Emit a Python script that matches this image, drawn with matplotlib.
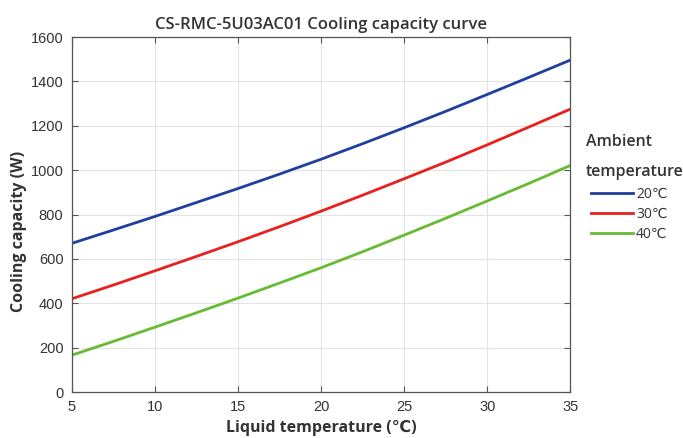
import matplotlib
matplotlib.use("Agg")
import matplotlib.pyplot as plt

liquid_temp = [5, 7.5, 10, 12.5, 15, 17.5, 20, 22.5, 25, 27.5, 30, 32.5, 35]
cap_20 = [670, 730, 791, 854, 917, 982, 1049, 1119, 1191, 1265, 1341, 1418, 1496]
cap_30 = [420, 482, 546, 611, 677, 745, 815, 887, 961, 1036, 1114, 1194, 1275]
cap_40 = [166, 228, 292, 357, 423, 491, 560, 632, 707, 783, 861, 940, 1021]
series_labels = ["20\u2103", "30\u2103", "40\u2103"]
legend_title = ["Ambient", "temperature"]
x_ticks = [5, 10, 15, 20, 25, 30, 35]
y_ticks = [0, 200, 400, 600, 800, 1000, 1200, 1400, 1600]

colors = ["#1f3f9f", "#e8201e", "#66bb33"]

W, H = 683, 438
fig = plt.figure(figsize=(W / 100, H / 100), dpi=100)
ax = fig.add_axes([0.105, 0.105, 0.73, 0.8105])

for ys, c, lab in zip([cap_20, cap_30, cap_40], colors, series_labels):
    ax.plot(liquid_temp, ys, color=c, lw=2.0, label=lab)

ax.set_xlim(5, 35)
ax.set_ylim(0, 1600)
ax.set_xticks(x_ticks)
ax.set_yticks(y_ticks)
ax.grid(True, color="#e3e3e3", lw=0.8)
ax.set_axisbelow(True)
ax.tick_params(direction="in", top=True, right=True, length=4, color="#555555",
               labelsize=10.5, labelcolor="#333333", pad=6)
for lbl in ax.get_xticklabels() + ax.get_yticklabels():
    lbl.set_family(["Liberation Sans", "DejaVu Sans"])
for s in ax.spines.values():
    s.set_color("#555555")
    s.set_linewidth(0.9)

fam = ["Open Sans", "DejaVu Sans"]
ax.set_title("CS-RMC-5U03AC01 Cooling capacity curve", family=fam, fontsize=12,
             fontweight="semibold", color="#333333", pad=6)
ax.set_xlabel("Liquid temperature (\u2103)", family=fam, fontsize=11.5,
              fontweight="bold", color="#333333", labelpad=4)
ax.set_ylabel("Cooling capacity (W)", family=fam, fontsize=11.5,
              fontweight="bold", color="#333333")
ax.yaxis.set_label_coords(-0.09, 0.453)

# legend title as two text lines
fig.text(586 / W, 1 - 142 / H, legend_title[0], family=fam, fontsize=11.5,
         fontweight="semibold", color="#333333", ha="left", va="center")
fig.text(586 / W, 1 - 172 / H, legend_title[1], family=fam, fontsize=11.5,
         fontweight="semibold", color="#333333", ha="left", va="center")

leg = fig.legend(loc="upper left", bbox_to_anchor=(591 / W, 1 - 187 / H),
                 frameon=False, handlelength=3.0, handletextpad=0.25,
                 labelspacing=0.35, borderaxespad=0.0, borderpad=0.0,
                 prop={"family": fam, "size": 10})
for t in leg.get_texts():
    t.set_color("#333333")

fig.savefig("out.png", dpi=100)
